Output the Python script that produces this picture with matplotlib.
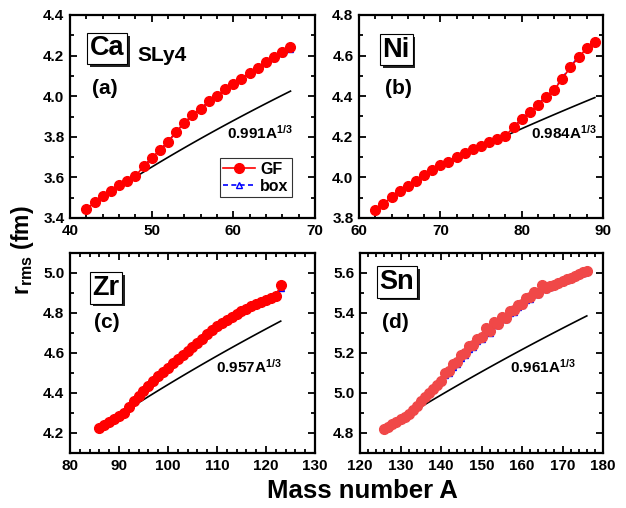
import numpy as np
import matplotlib
matplotlib.use('Agg')
import matplotlib.pyplot as plt
from matplotlib.ticker import MultipleLocator, FormatStrFormatter
from matplotlib.lines import Line2D
import matplotlib.patheffects as pe

plt.rcParams['font.family'] = ['Liberation Sans', 'DejaVu Sans']
plt.rcParams['font.weight'] = 'bold'
plt.rcParams['mathtext.fontset'] = 'custom'
plt.rcParams['mathtext.rm'] = 'Liberation Sans'
plt.rcParams['mathtext.bf'] = 'Liberation Sans:bold'
plt.rcParams['mathtext.it'] = 'Liberation Sans:italic'

# ---------------- data ----------------
ca_A = list(range(42, 68))
ca_gf = [3.444, 3.477, 3.507, 3.531, 3.561, 3.584, 3.605, 3.654, 3.695, 3.736,
         3.774, 3.826, 3.867, 3.908, 3.938, 3.974, 4.002, 4.034, 4.059, 4.085,
         4.113, 4.139, 4.167, 4.192, 4.216, 4.244]
ca_box = [3.444, 3.477, 3.507, 3.531, 3.561, 3.584, 3.605, 3.654, 3.695, 3.736,
          3.774, 3.826, 3.867, 3.908, 3.938, 3.974, 4.002, 4.034, 4.059, 4.085,
          4.113, 4.139, 4.167, 4.190, 4.212, 4.232]

ni_A = list(range(62, 90))
ni_gf = [3.838, 3.870, 3.902, 3.931, 3.959, 3.984, 4.010, 4.034, 4.059, 4.077,
         4.100, 4.120, 4.138, 4.156, 4.174, 4.190, 4.205, 4.246, 4.287, 4.321,
         4.359, 4.395, 4.431, 4.487, 4.543, 4.592, 4.636, 4.669]
ni_box = [3.838, 3.870, 3.902, 3.940, 3.959, 3.984, 4.010, 4.034, 4.059, 4.077,
          4.100, 4.120, 4.138, 4.156, 4.174, 4.190, 4.205, 4.246, 4.290, 4.330,
          4.362, 4.398, 4.434, 4.490, 4.546, 4.595, 4.639, 4.672]

zr_A = list(range(86, 124))
zr_gf = [4.226, 4.240, 4.255, 4.268, 4.283, 4.302, 4.330, 4.358, 4.383, 4.408,
         4.433, 4.460, 4.483, 4.505, 4.525, 4.548, 4.570, 4.588, 4.610, 4.630,
         4.652, 4.672, 4.695, 4.715, 4.735, 4.750, 4.765, 4.780, 4.795, 4.808,
         4.820, 4.833, 4.845, 4.855, 4.865, 4.875, 4.887, 4.940]
zr_box = [4.226, 4.240, 4.255, 4.268, 4.283, 4.302, 4.330, 4.358, 4.383, 4.408,
          4.433, 4.460, 4.483, 4.505, 4.525, 4.548, 4.570, 4.588, 4.610, 4.630,
          4.652, 4.672, 4.695, 4.715, 4.735, 4.750, 4.765, 4.780, 4.795, 4.808,
          4.820, 4.833, 4.845, 4.855, 4.865, 4.875, 4.890, 4.925]

sn_A = list(range(126, 177))
sn_gf = [4.818, 4.830, 4.843, 4.856, 4.868, 4.881, 4.895, 4.915, 4.937, 4.958,
         4.980, 5.000, 5.020, 5.040, 5.058, 5.100, 5.108, 5.143, 5.153, 5.189,
         5.200, 5.233, 5.241, 5.270, 5.279, 5.323, 5.310, 5.355, 5.344, 5.381,
         5.376, 5.409, 5.414, 5.442, 5.447, 5.474, 5.479, 5.504, 5.499, 5.539,
         5.523, 5.533, 5.542, 5.551, 5.560, 5.568, 5.577, 5.586, 5.594, 5.603,
         5.612]
sn_box = [4.818, 4.830, 4.843, 4.856, 4.868, 4.881, 4.895, 4.915, 4.937, 4.958,
          4.980, 5.000, 5.020, 5.040, 5.058, 5.088, 5.100, 5.130, 5.145, 5.175,
          5.190, 5.220, 5.232, 5.258, 5.270, 5.305, 5.302, 5.338, 5.338, 5.368,
          5.370, 5.398, 5.405, 5.432, 5.440, 5.464, 5.470, 5.494, 5.495, 5.526,
          5.522, 5.532, 5.541, 5.550, 5.559, 5.567, 5.576, 5.585, 5.593, 5.602,
          5.611]

# coefficient r0 of the r0*A^(1/3) reference curve and the A range it spans
fit_coef = [0.991, 0.984, 0.957, 0.961]
fit_A_range = [(48, 67), (78, 89), (91, 123), (132, 176)]

elements = ['Ca', 'Ni', 'Zr', 'Sn']
panel_tags = ['(a)', '(b)', '(c)', '(d)']
xlims = [(40, 70), (60, 90), (80, 130), (120, 180)]
ylims = [(3.4, 4.4), (3.8, 4.8), (4.1, 5.1), (4.7, 5.7)]

datasets = [(ca_A, ca_gf, ca_box), (ni_A, ni_gf, ni_box),
            (zr_A, zr_gf, zr_box), (sn_A, sn_gf, sn_box)]

# ---------------- layout ----------------
W, H = 626, 508
fig = plt.figure(figsize=(W / 100, H / 100), dpi=100)

def px_axes(l, t, r, b):
    return fig.add_axes([l / W, 1 - b / H, (r - l) / W, (b - t) / H])

axes = [px_axes(70, 15, 315, 218), px_axes(359, 15, 603, 218),
        px_axes(70, 253, 315, 453), px_axes(360, 253, 603, 453)]

# text positions (data coords)
elem_pos = [(42.4, 4.235), (62.9, 4.63), (84.6, 4.925), (124.8, 5.555)]
tag_pos = [(42.7, 4.04), (63.2, 4.44), (84.8, 4.75), (125.4, 5.355)]
fit_lbl_pos = [(59.2, 3.82), (81.2, 4.22), (109.8, 4.53), (157.0, 5.13)]

red_cols = ['#ff0000', '#ff0000', '#ff0000', '#f04848']

for i, ax in enumerate(axes):
    A, gf, box = datasets[i]
    ax.plot(A, box, color='#0000ff', ls=(0, (3, 2)), lw=1.2, marker='^',
            ms=5, mfc='none', mec='#0000ff', mew=1.0, zorder=2)
    ax.plot(A, gf, color=red_cols[i], ls='-', lw=1.2, marker='o', ms=7,
            mec=red_cols[i], mfc=red_cols[i], zorder=3)
    a0, a1 = fit_A_range[i]
    fa = np.linspace(a0, a1, 60)
    ax.plot(fa, fit_coef[i] * fa ** (1 / 3), color='black', lw=1.2, zorder=1)

    ax.set_xlim(*xlims[i])
    ax.set_ylim(*ylims[i])
    ax.xaxis.set_major_locator(MultipleLocator(10))
    ax.xaxis.set_minor_locator(MultipleLocator(2))
    ax.yaxis.set_major_locator(MultipleLocator(0.2))
    ax.yaxis.set_minor_locator(MultipleLocator(0.1))
    ax.yaxis.set_major_formatter(FormatStrFormatter('%.1f'))
    ax.tick_params(which='both', direction='in', top=True, right=True,
                   width=1.3, labelsize=11, pad=4)
    ax.tick_params(which='major', length=5)
    ax.tick_params(which='minor', length=3)
    for s in ax.spines.values():
        s.set_linewidth(1.6)
    for lab in ax.get_xticklabels() + ax.get_yticklabels():
        lab.set_fontweight('bold')

    # element label with shadowed box
    ex, ey = elem_pos[i]
    t = ax.text(ex, ey, elements[i], fontsize=19.5, fontweight='bold',
                ha='left', va='center', zorder=5,
                bbox=dict(boxstyle='square,pad=0.1', fc='white', ec='black', lw=0.8))
    t.get_bbox_patch().set_path_effects([
        pe.SimplePatchShadow(offset=(2, -2), shadow_rgbFace='#222222', alpha=1.0),
        pe.Normal()])

    tx, ty = tag_pos[i]
    ax.text(tx, ty, panel_tags[i], fontsize=15, fontweight='bold',
            ha='left', va='center')

    fx, fy = fit_lbl_pos[i]
    ax.text(fx, fy, r'$\mathbf{%.3fA^{1/3}}$' % fit_coef[i], fontsize=11,
            ha='left', va='center')

axes[0].text(48.2, 4.2, 'SLy4', fontsize=15, fontweight='bold',
             ha='left', va='center')

handles = [Line2D([], [], color='#ff0000', ls='-', lw=1.2, marker='o', ms=7),
           Line2D([], [], color='#0000ff', ls=(0, (3, 2)), lw=1.2, marker='^',
                  ms=5, mfc='none', mec='#0000ff')]
leg = axes[0].legend(handles, ['GF', 'box'], loc='lower right',
                     bbox_to_anchor=(0.905, 0.103), frameon=True, fancybox=False,
                     edgecolor='black', fontsize=11.5, handlelength=2.0,
                     handletextpad=0.3, borderpad=0.2, labelspacing=0.15,
                     borderaxespad=0.0)
leg.get_frame().set_linewidth(0.8)
for txt in leg.get_texts():
    txt.set_fontweight('bold')

fig.text(362 / W, 1 - 491 / H, 'Mass number A', fontsize=18.5, fontweight='bold',
         ha='center', va='center')
fig.text(22 / W, 1 - 250 / H, r'$\mathbf{r}_{\mathrm{rms}}$ (fm)', fontsize=16.5,
         fontweight='bold', ha='center', va='center', rotation=90)

fig.savefig('out.png', dpi=100)
